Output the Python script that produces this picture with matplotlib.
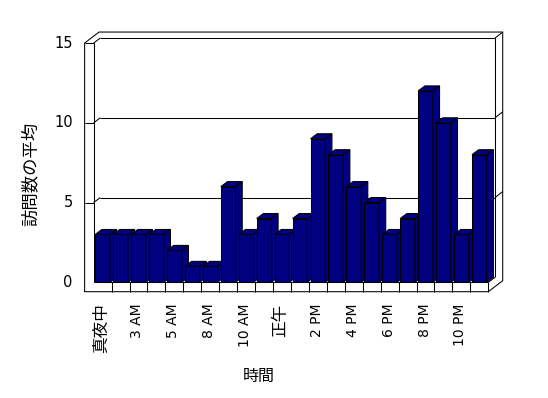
import matplotlib
matplotlib.use('Agg')
import matplotlib.pyplot as plt
from matplotlib.patches import Polygon

# ---- data ----
values = [3, 3, 3, 3, 2, 1, 1, 6, 3, 4, 3, 4, 9, 8, 6, 5, 3, 4, 12, 10, 3, 8]
tick_labels = ['真夜中', '3 AM', '5 AM', '8 AM', '10 AM', '正午',
               '2 PM', '4 PM', '6 PM', '8 PM', '10 PM']
tick_positions = [0, 2, 4, 6, 8, 10, 12, 14, 16, 18, 20]
y_ticks = [0, 5, 10, 15]
x_title = '時間'
y_title = '訪問数の平均'

BAR_COLOR = '#000080'
LW = 0.75

W, H = 548, 398
fig = plt.figure(figsize=(W / 100, H / 100), dpi=100)
ax = fig.add_axes([0, 0, 1, 1])
SX, SY = 17.94, 15.95       # pixels per category / per unit
X0, Y0 = 102.6, 282.3       # pixel position of category 0 / value 0
ax.set_xlim(-X0 / SX, (W - X0) / SX)
ax.set_ylim((Y0 - H) / SY, Y0 / SY)
ax.axis('off')


def dx(p):
    return p / SX


def dy(p):
    return p / SY


n = len(values)
L, R = -0.5, n - 0.5
TOP = max(y_ticks)
DX, DY = dx(6.7), dy(5.0)       # chart / bar depth
BX, BY = dx(7.7), dy(6.0)       # back wall thickness
WT = dx(9.0)                    # left wall thickness
FT = dy(9.4)                    # floor thickness


def line(xs, ys, z=2):
    ax.plot(xs, ys, color='black', lw=LW, solid_capstyle='butt', zorder=z)


# outer outline
outline = [(L - WT, -FT), (R, -FT), (R + DX + BX, -FT + DY + BY),
           (R + DX + BX, TOP + DY + BY), (L - WT + DX + BX, TOP + DY + BY),
           (L - WT, TOP), (L - WT, -FT)]
line([p[0] for p in outline], [p[1] for p in outline])
# left wall
line([L, L], [0, TOP])
line([L - WT, L], [TOP, TOP])
line([L, L + DX], [TOP, TOP + DY])
# back wall
line([L + DX, R + DX], [TOP + DY, TOP + DY])
line([R + DX, R + DX], [DY, TOP + DY])
line([R + DX, R + DX + BX], [TOP + DY, TOP + DY + BY])
# floor
line([L, R], [0, 0])
line([R, R], [0, -FT])
line([R, R + DX], [0, DY])
for k in range(1, n):
    line([k - 0.5, k - 0.5], [0, -FT])
# gridlines / ticks
for v in y_ticks[1:-1]:
    line([L + DX, R + DX], [v + DY, v + DY])
    line([L, L + DX], [v, v + DY])
    line([L - WT, L], [v, v])
    line([R + DX, R + DX + BX], [v + DY, v + DY + BY])

# bars
bw = 0.82
bars = ax.bar(range(n), values, width=bw, color=BAR_COLOR,
              edgecolor='black', linewidth=LW)
for i, (b, v) in enumerate(zip(bars, values)):
    z = 10 + 3 * i
    b.set_zorder(z)
    x0, x1 = i - bw / 2, i + bw / 2
    top = Polygon([(x0, v), (x0 + DX, v + DY), (x1 + DX, v + DY), (x1, v)],
                  closed=True, facecolor=BAR_COLOR, edgecolor='black',
                  lw=LW, zorder=z + 1)
    side = Polygon([(x1, 0), (x1, v), (x1 + DX, v + DY), (x1 + DX, DY)],
                   closed=True, facecolor=BAR_COLOR, edgecolor='black',
                   lw=LW, zorder=z + 1)
    ax.add_patch(top)
    ax.add_patch(side)

# y tick labels
for v in y_ticks:
    ax.annotate(str(v), xy=(L - WT, v), xytext=(-12 * 0.72, 0),
                textcoords='offset points', ha='right', va='center',
                fontsize=10.5, family=['DejaVu Sans'])

# x tick labels
for pos, lab in zip(tick_positions, tick_labels):
    cjk = any(ord(c) > 127 for c in lab)
    ax.annotate(lab, xy=(pos, 0), xytext=(-1 * 0.72, -21 * 0.72),
                textcoords='offset points', ha='center', va='top',
                rotation=90,
                fontsize=12 if cjk else 10,
                family=['Noto Sans CJK JP', 'DejaVu Sans'] if cjk else ['DejaVu Sans'])

fig.text(259 / W, 1 - 376 / H, x_title, ha='center', va='center',
         fontsize=11.5, family=['Noto Sans CJK JP', 'DejaVu Sans'])
fig.text(31 / W, 1 - 174 / H, y_title, ha='center', va='center', rotation=90,
         fontsize=12.5, family=['Noto Sans CJK JP', 'DejaVu Sans'])

fig.savefig('out.png', dpi=100, facecolor='white')
